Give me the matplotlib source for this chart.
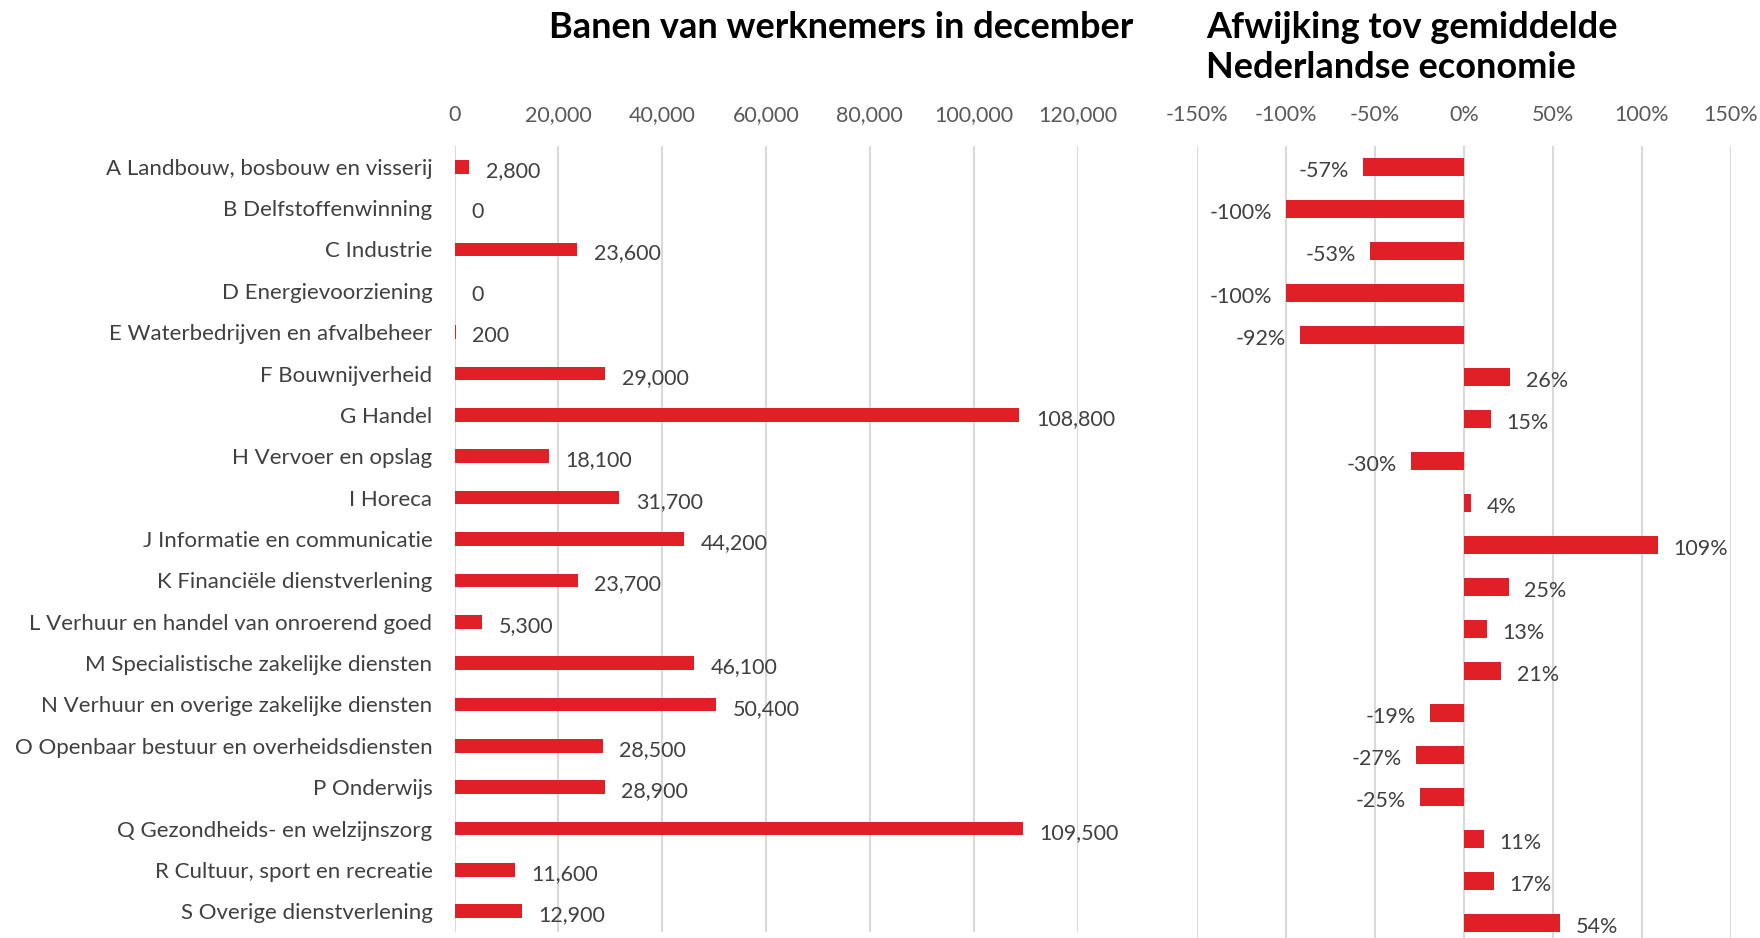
import numpy as np
import matplotlib
matplotlib.use("Agg")
import matplotlib.pyplot as plt
from matplotlib.ticker import FuncFormatter

plt.rcParams['font.family'] = ['Lato', 'DejaVu Sans']

sectors = [
    "A Landbouw, bosbouw en visserij",
    "B Delfstoffenwinning",
    "C Industrie",
    "D Energievoorziening",
    "E Waterbedrijven en afvalbeheer",
    "F Bouwnijverheid",
    "G Handel",
    "H Vervoer en opslag",
    "I Horeca",
    "J Informatie en communicatie",
    "K Financiële dienstverlening",
    "L Verhuur en handel van onroerend goed",
    "M Specialistische zakelijke diensten",
    "N Verhuur en overige zakelijke diensten",
    "O Openbaar bestuur en overheidsdiensten",
    "P Onderwijs",
    "Q Gezondheids- en welzijnszorg",
    "R Cultuur, sport en recreatie",
    "S Overige dienstverlening",
]
banen = [2800, 0, 23600, 0, 200, 29000, 108800, 18100, 31700, 44200,
         23700, 5300, 46100, 50400, 28500, 28900, 109500, 11600, 12900]
afwijking = [-57, -100, -53, -100, -92, 26, 15, -30, 4, 109,
             25, 13, 21, -19, -27, -25, 11, 17, 54]

RED = "#E01F26"
GRID = "#D9D9D9"
TICK = "#595959"
TXT = "#404040"

W, H = 1760, 938
fig = plt.figure(figsize=(W / 100, H / 100), dpi=100)

def px_axes(x0, x1, y0, y1):
    return fig.add_axes([x0 / W, 1 - y1 / H, (x1 - x0) / W, (y1 - y0) / H])

n = len(sectors)
y = np.arange(n)

# linker grafiek
ax1 = px_axes(454.6, 1077.5, 146, 932)
ax1.barh(y, banen, height=0.33, color=RED)
ax1.set_xlim(0, 120000)
ax1.set_ylim(n - 0.5, -0.5)
ax1.set_xticks(np.arange(0, 120001, 20000))
ax1.xaxis.set_major_formatter(FuncFormatter(lambda v, p: f"{int(v):,}"))
ax1.set_yticks(y)
ax1.set_yticklabels(sectors, fontsize=16, color=TXT)
for i, v in enumerate(banen):
    ax1.annotate(f"{v:,}", (v, i), xytext=(12, -3), textcoords="offset points",
                 ha="left", va="center", fontsize=15.5, color=TXT)

# rechter grafiek
ax2 = px_axes(1197, 1731, 146, 944)
ax2.barh(y, np.array(afwijking) / 100, height=0.42, color=RED)
ax2.set_xlim(-1.5, 1.5)
ax2.set_ylim(n - 0.5, -0.5)
ax2.set_xticks(np.arange(-1.5, 1.51, 0.5))
ax2.xaxis.set_major_formatter(FuncFormatter(lambda v, p: f"{round(v * 100)}%"))
ax2.set_yticks([])
for i, v in enumerate(afwijking):
    if v < 0:
        ax2.annotate(f"{v}%", (v / 100, i), xytext=(-10, -3), textcoords="offset points",
                     ha="right", va="center", fontsize=15.5, color=TXT)
    else:
        ax2.annotate(f"{v}%", (v / 100, i), xytext=(11, -3), textcoords="offset points",
                     ha="left", va="center", fontsize=15.5, color=TXT)

for ax in (ax1, ax2):
    ax.xaxis.tick_top()
    ax.tick_params(axis="x", length=0, pad=15, labelsize=15.5, labelcolor=TICK)
    ax.tick_params(axis="y", length=0, pad=16)
    ax.grid(axis="x", color=GRID, linewidth=1.5)
    ax.set_axisbelow(True)
    for s in ax.spines.values():
        s.set_visible(False)

fig.text(841 / W, 1 - 27 / H, "Banen van werknemers in december", ha="center", va="center",
         fontsize=26, fontweight="bold", color="black")
fig.text(1206 / W, 1 - 27 / H, "Afwijking tov gemiddelde", ha="left", va="center",
         fontsize=26, fontweight="bold", color="black")
fig.text(1206 / W, 1 - 67 / H, "Nederlandse economie", ha="left", va="center",
         fontsize=26, fontweight="bold", color="black")

fig.savefig("out.png", dpi=100)
